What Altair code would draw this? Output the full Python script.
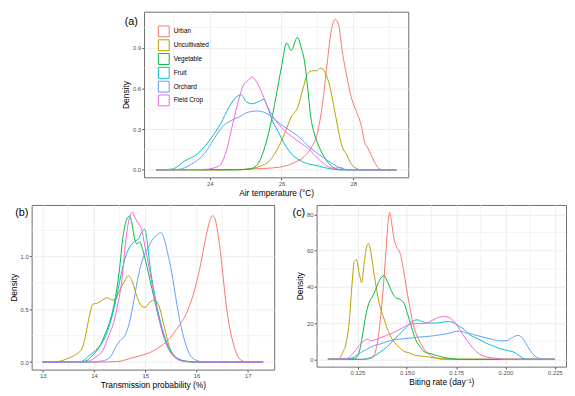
import altair as alt
import pandas as pd

SERIES = ["Urban", "Uncultivated", "Vegetable", "Fruit", "Orchard", "Field Crop"]
COLORS = ["#F8766D", "#B79F00", "#00BA38", "#00BFC4", "#619CFF", "#F564E3"]

# ---------------- panel (a): air temperature ----------------
a_urban = [(22.5, 0), (24.0, 0.0), (25.0, 0.004), (25.5, 0.01), (25.9, 0.018), (26.36, 0.053),
           (26.64, 0.1), (26.82, 0.16), (27.0, 0.27), (27.14, 0.48), (27.27, 0.78), (27.39, 1.03),
           (27.5, 1.11), (27.6, 1.06), (27.68, 0.9), (27.82, 0.69), (27.95, 0.53), (28.09, 0.43),
           (28.23, 0.32), (28.32, 0.2), (28.41, 0.16), (28.55, 0.08), (28.68, 0.02), (28.82, 0.0),
           (29.2, 0.0)]
a_uncult = [(22.5, 0), (24.5, 0.0), (25.0, 0.003), (25.39, 0.025), (25.66, 0.065), (25.9, 0.16),
            (26.09, 0.27), (26.27, 0.39), (26.45, 0.46), (26.6, 0.6), (26.73, 0.71), (26.86, 0.73),
            (26.98, 0.73), (27.09, 0.75), (27.23, 0.71), (27.36, 0.6), (27.45, 0.48), (27.55, 0.34),
            (27.68, 0.18), (27.82, 0.11), (27.95, 0.04), (28.09, 0.01), (28.23, 0), (29.2, 0)]
a_veg = [(22.5, 0), (24.8, 0), (25.12, 0.007), (25.3, 0.03), (25.43, 0.09), (25.57, 0.2),
         (25.7, 0.34), (25.84, 0.53), (26.0, 0.76), (26.14, 0.935), (26.27, 0.88), (26.44, 0.976),
         (26.55, 0.9), (26.64, 0.8), (26.73, 0.6), (26.82, 0.38), (26.9, 0.28), (27.0, 0.2),
         (27.18, 0.1), (27.36, 0.035), (27.55, 0.005), (27.7, 0), (29.2, 0)]
a_fruit = [(22.5, 0), (22.94, 0.005), (23.3, 0.065), (23.66, 0.12), (24.03, 0.23), (24.3, 0.34),
           (24.53, 0.46), (24.71, 0.53), (24.87, 0.554), (25.02, 0.5), (25.18, 0.487), (25.34, 0.5),
           (25.5, 0.52), (25.61, 0.46), (25.75, 0.36), (25.91, 0.28), (26.0, 0.23), (26.27, 0.12),
           (26.45, 0.08), (26.64, 0.053), (27.0, 0.03), (27.36, 0.007), (27.6, 0), (29.2, 0)]
a_orch = [(22.5, 0), (23.12, 0.003), (23.48, 0.04), (23.85, 0.12), (24.12, 0.23), (24.36, 0.32),
          (24.57, 0.36), (24.82, 0.39), (25.02, 0.42), (25.32, 0.434), (25.5, 0.425), (25.73, 0.39),
          (26.0, 0.33), (26.18, 0.3), (26.45, 0.25), (26.82, 0.157), (27.18, 0.088), (27.55, 0.025),
          (27.82, 0), (29.2, 0)]
a_field = [(22.5, 0), (23.85, 0.003), (24.27, 0.03), (24.45, 0.13), (24.64, 0.34), (24.82, 0.53),
           (24.93, 0.62), (25.07, 0.66), (25.18, 0.683), (25.3, 0.65), (25.45, 0.57), (25.57, 0.49),
           (25.68, 0.43), (26.0, 0.31), (26.36, 0.23), (26.73, 0.16), (27.09, 0.065), (27.45, 0.01),
           (27.64, 0.018), (27.82, 0.0), (29.2, 0)]

# ---------------- panel (b): transmission probability ----------------
b_urban = [(13.0, 0), (14.0, 0.0), (14.47, 0.006), (14.72, 0.037), (14.9, 0.06), (15.09, 0.09),
           (15.27, 0.14), (15.43, 0.2), (15.61, 0.31), (15.8, 0.46), (15.93, 0.63), (16.06, 0.88),
           (16.18, 1.18), (16.26, 1.34), (16.31, 1.39), (16.36, 1.36), (16.43, 1.18), (16.5, 0.9),
           (16.56, 0.62), (16.63, 0.37), (16.71, 0.19), (16.8, 0.06), (16.92, 0.006), (17.0, 0),
           (17.3, 0)]
b_uncult = [(13.0, 0), (13.3, 0.006), (13.5, 0.037), (13.67, 0.08), (13.77, 0.13), (13.86, 0.31),
            (13.92, 0.46), (13.98, 0.55), (14.07, 0.56), (14.17, 0.59), (14.26, 0.61), (14.35, 0.59),
            (14.41, 0.59), (14.5, 0.68), (14.6, 0.77), (14.67, 0.82), (14.75, 0.76), (14.84, 0.62),
            (14.93, 0.53), (15.0, 0.52), (15.09, 0.57), (15.18, 0.59), (15.27, 0.53), (15.34, 0.4),
            (15.4, 0.28), (15.46, 0.16), (15.55, 0.067), (15.67, 0.02), (15.86, 0.006), (16.0, 0),
            (17.3, 0)]
b_veg = [(13.0, 0), (13.8, 0.006), (13.98, 0.067), (14.1, 0.14), (14.23, 0.28), (14.32, 0.4),
         (14.41, 0.59), (14.5, 0.89), (14.56, 1.17), (14.63, 1.34), (14.69, 1.385), (14.74, 1.32),
         (14.78, 1.2), (14.84, 1.12), (14.89, 1.14), (14.96, 1.05), (15.06, 0.85), (15.2, 0.55),
         (15.33, 0.3), (15.45, 0.13), (15.57, 0.05), (15.7, 0.015), (15.85, 0.003), (16.0, 0),
         (17.3, 0)]
b_fruit = [(13.0, 0), (13.74, 0.006), (13.92, 0.067), (14.07, 0.13), (14.23, 0.25), (14.35, 0.43),
           (14.44, 0.62), (14.53, 0.83), (14.63, 1.02), (14.72, 1.11), (14.81, 1.15), (14.87, 1.17),
           (14.93, 1.23), (14.99, 1.26), (15.03, 1.17), (15.09, 0.92), (15.2, 0.6), (15.33, 0.32),
           (15.45, 0.15), (15.57, 0.06), (15.7, 0.02), (15.85, 0.005), (16.0, 0), (17.3, 0)]
b_orch = [(13.0, 0), (13.92, 0.0), (14.17, 0.012), (14.32, 0.05), (14.41, 0.13), (14.5, 0.2),
          (14.6, 0.25), (14.69, 0.37), (14.78, 0.59), (14.87, 0.83), (14.96, 0.99), (15.06, 1.09),
          (15.15, 1.17), (15.24, 1.21), (15.3, 1.23), (15.37, 1.17), (15.43, 1.05), (15.52, 0.84),
          (15.6, 0.6), (15.68, 0.38), (15.77, 0.2), (15.86, 0.08), (15.96, 0.025), (16.1, 0.005),
          (16.3, 0), (17.3, 0)]
b_field = [(13.0, 0), (13.86, 0.006), (14.04, 0.05), (14.17, 0.11), (14.29, 0.25), (14.38, 0.37),
           (14.47, 0.56), (14.55, 0.8), (14.61, 1.1), (14.67, 1.32), (14.75, 1.42), (14.8, 1.37),
           (14.87, 1.31), (14.93, 1.26), (14.99, 1.11), (15.09, 0.86), (15.2, 0.56), (15.33, 0.29),
           (15.45, 0.13), (15.57, 0.05), (15.7, 0.012), (15.85, 0.002), (16.0, 0), (17.3, 0)]

# ---------------- panel (c): biting rate ----------------
c_urban = [(0.11, 0), (0.128, 0), (0.1324, 0.7), (0.1348, 7.5), (0.1364, 20), (0.1381, 39.7),
           (0.1394, 59.4), (0.1405, 75.5), (0.1413, 81.2), (0.1423, 75.5), (0.1435, 66.5),
           (0.1449, 62), (0.1466, 58.5), (0.1479, 52.2), (0.1495, 41.5), (0.1515, 29), (0.1531, 20),
           (0.1552, 12.9), (0.1577, 7.5), (0.1601, 3.9), (0.1626, 1.8), (0.165, 0.7), (0.168, 0),
           (0.225, 0)]
c_uncult = [(0.11, 0), (0.1152, 0.3), (0.1176, 3.9), (0.1193, 9.3), (0.1209, 21.8), (0.1221, 39.7),
            (0.1234, 54), (0.1245, 55), (0.1258, 47.8), (0.1272, 42.4), (0.1283, 52.2), (0.1296, 62),
            (0.1306, 63.9), (0.1319, 58.5), (0.1332, 48.7), (0.1348, 37.9), (0.1364, 29),
            (0.1381, 23.6), (0.1397, 18.2), (0.1417, 12.9), (0.1438, 9.3), (0.1462, 6.6),
            (0.1487, 4.3), (0.1511, 3.6), (0.1544, 2.1), (0.1593, 1.6), (0.1642, 0.7), (0.17, 0.2),
            (0.175, 0), (0.225, 0)]
c_veg = [(0.11, 0), (0.1234, 0.3), (0.1258, 3.9), (0.1275, 12.9), (0.1291, 23.6), (0.1307, 30.8),
         (0.1324, 34.3), (0.134, 37.9), (0.1356, 42.4), (0.1373, 45.4), (0.1386, 46.2), (0.14, 43.3),
         (0.1422, 37.9), (0.1443, 34), (0.1466, 33.1), (0.1487, 30.8), (0.1503, 25.4),
         (0.1525, 17.4), (0.1544, 11.1), (0.1569, 6.6), (0.1593, 3.9), (0.1626, 3), (0.165, 2.1),
         (0.17, 0.8), (0.176, 0), (0.225, 0)]
c_fruit = [(0.11, 0), (0.1283, 0), (0.1324, 1.3), (0.1364, 3.9), (0.1397, 6.6), (0.143, 10.2),
           (0.1462, 13.8), (0.1495, 17.4), (0.1525, 20.6), (0.1552, 21.8), (0.1577, 20.9),
           (0.1601, 20), (0.1626, 20), (0.1652, 20), (0.1685, 20.6), (0.1717, 20.8), (0.1742, 20),
           (0.1766, 18.2), (0.1791, 16.5), (0.1815, 13.8), (0.1848, 12), (0.1881, 10.2),
           (0.1913, 8.4), (0.1946, 7), (0.1979, 5.7), (0.2011, 4.8), (0.2044, 3.9), (0.2069, 2.1),
           (0.2093, 0.4), (0.211, 0), (0.225, 0)]
c_orch = [(0.11, 0), (0.1185, 0), (0.1234, 1.3), (0.1266, 3.6), (0.1299, 5.7), (0.1332, 7.5),
          (0.1364, 8.4), (0.1397, 9.7), (0.143, 10.7), (0.1462, 11.1), (0.1495, 11.4),
          (0.1528, 11.8), (0.156, 12.3), (0.1593, 12.5), (0.165, 13.2), (0.1701, 14.1),
          (0.1734, 15), (0.1766, 15.6), (0.1799, 14.7), (0.1832, 13.8), (0.1864, 12.9),
          (0.1897, 12), (0.193, 11.1), (0.1971, 10.2), (0.2003, 10.2), (0.2036, 12), (0.2061, 13.2),
          (0.208, 12.5), (0.2101, 9.3), (0.2126, 4.8), (0.215, 1.8), (0.2175, 0.4), (0.2191, 0),
          (0.225, 0)]
c_field = [(0.11, 0), (0.1193, 0.3), (0.1225, 3), (0.1258, 7.5), (0.1283, 10.2), (0.1299, 11.1),
           (0.1315, 10.2), (0.1348, 11.1), (0.1381, 12.5), (0.1413, 13.8), (0.1446, 15.6),
           (0.1479, 17.4), (0.1511, 19.1), (0.1544, 19.7), (0.1577, 19.7), (0.1609, 20.4),
           (0.165, 22.7), (0.1685, 23.6), (0.1709, 23.3), (0.1734, 21.5), (0.1758, 18.2),
           (0.1783, 13.8), (0.1807, 10.2), (0.1832, 6.6), (0.1856, 3.9), (0.1881, 2.1),
           (0.1913, 1.1), (0.1962, 0.4), (0.1995, 0), (0.225, 0)]

# axis breaks
a_xticks, a_yticks = [24, 26, 28], [0.0, 0.3, 0.6, 0.9]
a_xminor, a_yminor = [23, 25, 27, 29], [0.15, 0.45, 0.75, 1.05]
b_xticks, b_yticks = [13, 14, 15, 16, 17], [0.0, 0.5, 1.0]
b_xminor, b_yminor = [13.5, 14.5, 15.5, 16.5], [0.25, 0.75, 1.25]
c_xticks, c_yticks = [0.125, 0.150, 0.175, 0.200, 0.225], [0, 20, 40, 60, 80]
c_xminor, c_yminor = [0.1125, 0.1375, 0.1625, 0.1875, 0.2125], [10, 30, 50, 70]


def frame(lists):
    rows = []
    for name, pts in zip(SERIES, lists):
        for i, (x, d) in enumerate(pts):
            rows.append({"x": x, "density": d, "type": name, "i": i})
    return pd.DataFrame(rows)


GRID = "#EBEBEB"


def panel(df, xdom, ydom, xticks, yticks, xminor, yminor, xfmt, yfmt, xtitle,
          tag, tag_dx, tag_dy, w, h, legend):
    xs = alt.Scale(domain=xdom, nice=False, zero=False)
    ys = alt.Scale(domain=ydom, nice=False, zero=False)
    xax = alt.Axis(values=xticks, format=xfmt, title=xtitle)
    yax = alt.Axis(values=yticks, format=yfmt, title="Density")
    mx = alt.Chart(pd.DataFrame({"x": xminor})).mark_rule(
        color=GRID, strokeWidth=0.6).encode(x=alt.X("x:Q", scale=xs, axis=xax))
    my = alt.Chart(pd.DataFrame({"density": yminor})).mark_rule(
        color=GRID, strokeWidth=0.6).encode(y=alt.Y("density:Q", scale=ys, axis=yax))
    color = alt.Color("type:N", scale=alt.Scale(domain=SERIES, range=COLORS),
                      sort=SERIES, legend=legend)
    lines = alt.Chart(df).mark_line(strokeWidth=1, interpolate="monotone").encode(
        x=alt.X("x:Q", scale=xs, axis=xax),
        y=alt.Y("density:Q", scale=ys, axis=yax),
        color=color,
        order="i:Q",
    )
    label = alt.Chart(pd.DataFrame({"t": [tag]})).mark_text(
        fontSize=11, align="center", baseline="middle", color="black").encode(
        text="t:N", x=alt.value(tag_dx), y=alt.value(tag_dy))
    return alt.layer(mx, my, lines, label).properties(width=w, height=h)


legend_a = alt.Legend(orient="none", legendX=14, legendY=14, title=None,
                      symbolType="square", symbolSize=121, symbolStrokeWidth=1,
                      symbolFillColor="white", labelFontSize=6.5, labelColor="black",
                      rowPadding=-4, padding=0, labelOffset=4)

pa = panel(frame([a_urban, a_uncult, a_veg, a_fruit, a_orch, a_field]),
           [22.165, 29.535], [-0.0555, 1.1655], a_xticks, a_yticks, a_xminor, a_yminor,
           "d", ".1f", "Air temperature (°C)", "(a)", -13, 10, 268, 168, legend_a)
pb = panel(frame([b_urban, b_uncult, b_veg, b_fruit, b_orch, b_field]),
           [12.785, 17.515], [-0.071, 1.491], b_xticks, b_yticks, b_xminor, b_yminor,
           "d", ".1f", "Transmission probability (%)", "(b)", -10, 8, 246, 167, None)
pc = panel(frame([c_urban, c_uncult, c_veg, c_fruit, c_orch, c_field]),
           [0.10425, 0.23075], [-4.06, 85.26], c_xticks, c_yticks, c_xminor, c_yminor,
           ".3f", "d", "Biting rate (day⁻¹)", "(c)", -18, 8, 253, 164, None)

spacer = alt.Chart(pd.DataFrame({"v": [0]})).mark_point(opacity=0, size=1).encode(
    x=alt.value(30), y=alt.value(0.5)).properties(
    width=80, height=1, view=alt.ViewBackground(stroke="transparent"))

row1 = alt.hconcat(spacer, pa, spacing=9).resolve_scale(color="independent")
row2 = alt.hconcat(pb, pc, spacing=17).resolve_scale(color="independent")

chart = alt.vconcat(row1, row2, spacing=6).properties(padding=0).resolve_scale(
    color="independent"
).configure(font="Liberation Sans").configure_view(
    stroke="#6e6e6e", strokeWidth=1
).configure_axis(
    grid=True, gridColor=GRID, gridWidth=0.9, domain=False,
    tickColor="#333333", tickSize=2.5, tickWidth=0.8,
    labelColor="#4D4D4D", labelFontSize=6, labelPadding=1,
    titleFontSize=8.5, titleFontWeight="normal", titleColor="black", titlePadding=2,
)

chart.save("out.html", embed_options={"renderer": "svg", "actions": False})
